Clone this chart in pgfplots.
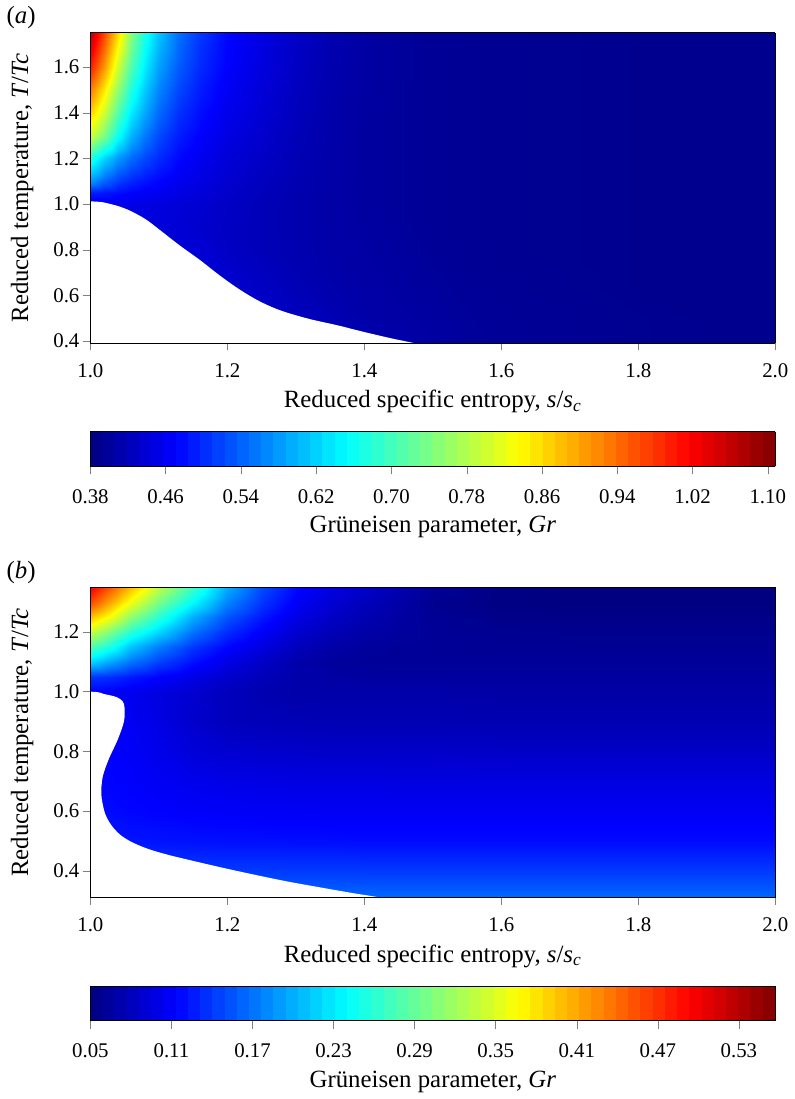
\documentclass[border=0pt]{standalone}
\usepackage{fontspec}
\setmainfont{Liberation Serif}
\usepackage{pgfplots}
\pgfplotsset{compat=1.18}
\usetikzlibrary{calc}

\pgfplotsset{
  grpanel/.style={
    width=345pt, height=156.5pt, scale only axis,
    view={0}{90},
    xmin=1, xmax=2,
    enlargelimits=false,
    axis on top,
    colormap/jet,
    tick align=outside,
    xtick pos=left, ytick pos=left,
    major tick length=3.5pt,
    xtick={1,1.2,1.4,1.6,1.8,2},
    xticklabels={1.0,1.2,1.4,1.6,1.8,2.0},
    xticklabel shift=3pt,
    yticklabel shift=-1.5pt,
    tick label style={font=\fontsize{10.5}{12}\selectfont},
    /pgf/number format/assume math mode=true,
    every axis x label/.style={at={(axis description cs:0.5,0)}, yshift=-29.4pt, anchor=center,
      font=\fontsize{12.5}{15}\selectfont},
    every axis y label/.style={at={(axis description cs:0,0.5)}, xshift=-34.3pt, anchor=center,
      rotate=90, font=\fontsize{12.5}{15}\selectfont},
    xlabel={Reduced specific entropy, \textit{s}/\textit{s}\textsubscript{\textit{c}}},
    ylabel={Reduced temperature, \textit{T}/\textit{Tc}},
    colorbar horizontal,
    colorbar sampled,
  },
  grbar/.style={
    samples=57,
    at={($(parent axis.north west)+(0pt,-192.4pt)$)}, anchor=north west,
    width=345pt, height=17.5pt, scale only axis,
    xtick align=outside, xtick pos=left, xticklabel pos=left,
    major tick length=4pt,
    xticklabel shift=4pt,
    tick label style={font=\fontsize{10.5}{12}\selectfont},
    every axis x label/.style={at={(axis description cs:0.5,0)}, yshift=-30.6pt, anchor=center,
      font=\fontsize{12.5}{15}\selectfont},
    xlabel={Grüneisen parameter, \textit{Gr}},
  },
}

\begin{document}
\begin{tikzpicture}
% ---------------- (a) ----------------
\begin{axis}[grpanel, name=pa,
  ymin=0.39, ymax=1.75,
  ytick={0.4,0.6,0.8,1.0,1.2,1.4,1.6},
  yticklabels={0.4,0.6,0.8,1.0,1.2,1.4,1.6},
  point meta min=0.38, point meta max=1.108,
  colorbar style={grbar,
    xtick={0.38,0.46,0.54,0.62,0.70,0.78,0.86,0.94,1.02,1.10},
    xticklabels={0.38,0.46,0.54,0.62,0.70,0.78,0.86,0.94,1.02,1.10}},
]
\addplot3[surf, shader=interp, mesh/cols=19, mesh/ordering=x varies] table[row sep=\\] {
s T g\\
1.00 0.39 0.45\\ 1.02 0.39 0.45\\ 1.04 0.39 0.45\\ 1.06 0.39 0.45\\ 1.08 0.39 0.45\\ 1.10 0.39 0.45\\ 1.13 0.39 0.445\\ 1.16 0.39 0.44\\ 1.20 0.39 0.435\\ 1.25 0.39 0.43\\ 1.30 0.39 0.425\\ 1.35 0.39 0.42\\ 1.40 0.39 0.415\\ 1.45 0.39 0.41\\ 1.50 0.39 0.405\\ 1.55 0.39 0.401\\ 1.60 0.39 0.397\\ 1.80 0.39 0.392\\ 2.00 0.39 0.39\\
1.00 0.50 0.45\\ 1.02 0.50 0.45\\ 1.04 0.50 0.45\\ 1.06 0.50 0.45\\ 1.08 0.50 0.45\\ 1.10 0.50 0.45\\ 1.13 0.50 0.445\\ 1.16 0.50 0.44\\ 1.20 0.50 0.435\\ 1.25 0.50 0.43\\ 1.30 0.50 0.425\\ 1.35 0.50 0.418\\ 1.40 0.50 0.41\\ 1.45 0.50 0.406\\ 1.50 0.50 0.403\\ 1.55 0.50 0.399\\ 1.60 0.50 0.396\\ 1.80 0.50 0.392\\ 2.00 0.50 0.39\\
1.00 0.60 0.45\\ 1.02 0.60 0.45\\ 1.04 0.60 0.45\\ 1.06 0.60 0.45\\ 1.08 0.60 0.45\\ 1.10 0.60 0.45\\ 1.13 0.60 0.445\\ 1.16 0.60 0.44\\ 1.20 0.60 0.435\\ 1.25 0.60 0.43\\ 1.30 0.60 0.42\\ 1.35 0.60 0.413\\ 1.40 0.60 0.408\\ 1.45 0.60 0.404\\ 1.50 0.60 0.401\\ 1.55 0.60 0.397\\ 1.60 0.60 0.395\\ 1.80 0.60 0.391\\ 2.00 0.60 0.39\\
1.00 0.70 0.45\\ 1.02 0.70 0.45\\ 1.04 0.70 0.45\\ 1.06 0.70 0.45\\ 1.08 0.70 0.448\\ 1.10 0.70 0.445\\ 1.13 0.70 0.442\\ 1.16 0.70 0.44\\ 1.20 0.70 0.435\\ 1.25 0.70 0.425\\ 1.30 0.70 0.417\\ 1.35 0.70 0.41\\ 1.40 0.70 0.406\\ 1.45 0.70 0.403\\ 1.50 0.70 0.399\\ 1.55 0.70 0.396\\ 1.60 0.70 0.394\\ 1.80 0.70 0.391\\ 2.00 0.70 0.39\\
1.00 0.80 0.45\\ 1.02 0.80 0.45\\ 1.04 0.80 0.45\\ 1.06 0.80 0.45\\ 1.08 0.80 0.448\\ 1.10 0.80 0.445\\ 1.13 0.80 0.442\\ 1.16 0.80 0.44\\ 1.20 0.80 0.43\\ 1.25 0.80 0.42\\ 1.30 0.80 0.414\\ 1.35 0.80 0.409\\ 1.40 0.80 0.405\\ 1.45 0.80 0.402\\ 1.50 0.80 0.397\\ 1.55 0.80 0.395\\ 1.60 0.80 0.393\\ 1.80 0.80 0.391\\ 2.00 0.80 0.39\\
1.00 0.90 0.45\\ 1.02 0.90 0.45\\ 1.04 0.90 0.45\\ 1.06 0.90 0.45\\ 1.08 0.90 0.448\\ 1.10 0.90 0.445\\ 1.13 0.90 0.44\\ 1.16 0.90 0.435\\ 1.20 0.90 0.428\\ 1.25 0.90 0.42\\ 1.30 0.90 0.413\\ 1.35 0.90 0.408\\ 1.40 0.90 0.404\\ 1.45 0.90 0.40\\ 1.50 0.90 0.396\\ 1.55 0.90 0.394\\ 1.60 0.90 0.393\\ 1.80 0.90 0.391\\ 2.00 0.90 0.39\\
1.00 1.00 0.46\\ 1.02 1.00 0.458\\ 1.04 1.00 0.455\\ 1.06 1.00 0.452\\ 1.08 1.00 0.45\\ 1.10 1.00 0.447\\ 1.13 1.00 0.443\\ 1.16 1.00 0.438\\ 1.20 1.00 0.43\\ 1.25 1.00 0.42\\ 1.30 1.00 0.413\\ 1.35 1.00 0.408\\ 1.40 1.00 0.403\\ 1.45 1.00 0.399\\ 1.50 1.00 0.396\\ 1.55 1.00 0.394\\ 1.60 1.00 0.393\\ 1.80 1.00 0.391\\ 2.00 1.00 0.39\\
1.00 1.05 0.49\\ 1.02 1.05 0.485\\ 1.04 1.05 0.478\\ 1.06 1.05 0.47\\ 1.08 1.05 0.465\\ 1.10 1.05 0.46\\ 1.13 1.05 0.452\\ 1.16 1.05 0.445\\ 1.20 1.05 0.433\\ 1.25 1.05 0.423\\ 1.30 1.05 0.414\\ 1.35 1.05 0.408\\ 1.40 1.05 0.403\\ 1.45 1.05 0.399\\ 1.50 1.05 0.396\\ 1.55 1.05 0.394\\ 1.60 1.05 0.393\\ 1.80 1.05 0.391\\ 2.00 1.05 0.39\\
1.00 1.10 0.58\\ 1.02 1.10 0.545\\ 1.04 1.10 0.515\\ 1.06 1.10 0.497\\ 1.08 1.10 0.484\\ 1.10 1.10 0.473\\ 1.13 1.10 0.46\\ 1.16 1.10 0.45\\ 1.20 1.10 0.437\\ 1.25 1.10 0.425\\ 1.30 1.10 0.415\\ 1.35 1.10 0.408\\ 1.40 1.10 0.403\\ 1.45 1.10 0.399\\ 1.50 1.10 0.396\\ 1.55 1.10 0.394\\ 1.60 1.10 0.393\\ 1.80 1.10 0.391\\ 2.00 1.10 0.39\\
1.00 1.20 0.68\\ 1.02 1.20 0.625\\ 1.04 1.20 0.58\\ 1.06 1.20 0.548\\ 1.08 1.20 0.522\\ 1.10 1.20 0.50\\ 1.13 1.20 0.475\\ 1.16 1.20 0.46\\ 1.20 1.20 0.443\\ 1.25 1.20 0.43\\ 1.30 1.20 0.418\\ 1.35 1.20 0.409\\ 1.40 1.20 0.403\\ 1.45 1.20 0.399\\ 1.50 1.20 0.396\\ 1.55 1.20 0.394\\ 1.60 1.20 0.393\\ 1.80 1.20 0.391\\ 2.00 1.20 0.39\\
1.00 1.30 0.80\\ 1.02 1.30 0.74\\ 1.04 1.30 0.66\\ 1.06 1.30 0.60\\ 1.08 1.30 0.557\\ 1.10 1.30 0.522\\ 1.13 1.30 0.49\\ 1.16 1.30 0.47\\ 1.20 1.30 0.45\\ 1.25 1.30 0.435\\ 1.30 1.30 0.42\\ 1.35 1.30 0.41\\ 1.40 1.30 0.403\\ 1.45 1.30 0.399\\ 1.50 1.30 0.396\\ 1.55 1.30 0.394\\ 1.60 1.30 0.393\\ 1.80 1.30 0.391\\ 2.00 1.30 0.39\\
1.00 1.40 0.87\\ 1.02 1.40 0.80\\ 1.04 1.40 0.71\\ 1.06 1.40 0.64\\ 1.08 1.40 0.59\\ 1.10 1.40 0.545\\ 1.13 1.40 0.505\\ 1.16 1.40 0.48\\ 1.20 1.40 0.457\\ 1.25 1.40 0.44\\ 1.30 1.40 0.423\\ 1.35 1.40 0.411\\ 1.40 1.40 0.403\\ 1.45 1.40 0.399\\ 1.50 1.40 0.396\\ 1.55 1.40 0.394\\ 1.60 1.40 0.393\\ 1.80 1.40 0.391\\ 2.00 1.40 0.39\\
1.00 1.50 0.93\\ 1.02 1.50 0.85\\ 1.04 1.50 0.755\\ 1.06 1.50 0.675\\ 1.08 1.50 0.615\\ 1.10 1.50 0.565\\ 1.13 1.50 0.52\\ 1.16 1.50 0.49\\ 1.20 1.50 0.463\\ 1.25 1.50 0.443\\ 1.30 1.50 0.425\\ 1.35 1.50 0.412\\ 1.40 1.50 0.404\\ 1.45 1.50 0.399\\ 1.50 1.50 0.396\\ 1.55 1.50 0.394\\ 1.60 1.50 0.393\\ 1.80 1.50 0.391\\ 2.00 1.50 0.39\\
1.00 1.60 1.00\\ 1.02 1.60 0.91\\ 1.04 1.60 0.80\\ 1.06 1.60 0.71\\ 1.08 1.60 0.64\\ 1.10 1.60 0.585\\ 1.13 1.60 0.535\\ 1.16 1.60 0.50\\ 1.20 1.60 0.47\\ 1.25 1.60 0.447\\ 1.30 1.60 0.428\\ 1.35 1.60 0.414\\ 1.40 1.60 0.405\\ 1.45 1.60 0.40\\ 1.50 1.60 0.396\\ 1.55 1.60 0.394\\ 1.60 1.60 0.393\\ 1.80 1.60 0.391\\ 2.00 1.60 0.39\\
1.00 1.75 1.07\\ 1.02 1.75 0.97\\ 1.04 1.75 0.86\\ 1.06 1.75 0.75\\ 1.08 1.75 0.67\\ 1.10 1.75 0.61\\ 1.13 1.75 0.55\\ 1.16 1.75 0.51\\ 1.20 1.75 0.475\\ 1.25 1.75 0.45\\ 1.30 1.75 0.43\\ 1.35 1.75 0.415\\ 1.40 1.75 0.405\\ 1.45 1.75 0.40\\ 1.50 1.75 0.396\\ 1.55 1.75 0.394\\ 1.60 1.75 0.393\\ 1.80 1.75 0.391\\ 2.00 1.75 0.39\\
};
% two-phase region (blank)
\addplot[fill=white, draw=none, smooth, tension=0.55] coordinates {
(0.9,1.012) (1.0,1.012) (1.03,1.0) (1.055,0.975) (1.08,0.935) (1.1,0.89) (1.13,0.82)
(1.16,0.755) (1.19,0.685) (1.22,0.622) (1.25,0.57) (1.28,0.532) (1.32,0.497)
(1.36,0.47) (1.40,0.44) (1.44,0.412) (1.475,0.39) (1.5,0.37) (0.9,0.37)} --cycle;
\end{axis}
\node[font=\fontsize{12.5}{15}\selectfont] at ($(pa.north west)+(-34.9pt,7.5pt)$) {(\textit{a})};

% ---------------- (b) ----------------
\begin{axis}[grpanel, name=pb,
  at={($(pa.south west)+(0pt,-279.2pt)$)}, anchor=south west,
  ymin=0.31, ymax=1.35,
  ytick={0.4,0.6,0.8,1.0,1.2},
  yticklabels={0.4,0.6,0.8,1.0,1.2},
  point meta min=0.05, point meta max=0.557,
  colorbar style={grbar,
    xtick={0.05,0.11,0.17,0.23,0.29,0.35,0.41,0.47,0.53},
    xticklabels={0.05,0.11,0.17,0.23,0.29,0.35,0.41,0.47,0.53}},
]
\addplot3[surf, shader=interp, mesh/cols=16, mesh/ordering=x varies] table[row sep=\\] {
s T g\\
1.00 0.31 0.166\\ 1.03 0.31 0.166\\ 1.06 0.31 0.166\\ 1.10 0.31 0.166\\ 1.15 0.31 0.166\\ 1.20 0.31 0.166\\ 1.25 0.31 0.166\\ 1.30 0.31 0.166\\ 1.35 0.31 0.166\\ 1.40 0.31 0.166\\ 1.45 0.31 0.166\\ 1.50 0.31 0.166\\ 1.60 0.31 0.166\\ 1.70 0.31 0.166\\ 1.80 0.31 0.166\\ 2.00 0.31 0.166\\
1.00 0.40 0.142\\ 1.03 0.40 0.142\\ 1.06 0.40 0.142\\ 1.10 0.40 0.142\\ 1.15 0.40 0.142\\ 1.20 0.40 0.142\\ 1.25 0.40 0.142\\ 1.30 0.40 0.142\\ 1.35 0.40 0.142\\ 1.40 0.40 0.142\\ 1.45 0.40 0.142\\ 1.50 0.40 0.142\\ 1.60 0.40 0.142\\ 1.70 0.40 0.142\\ 1.80 0.40 0.142\\ 2.00 0.40 0.142\\
1.00 0.50 0.125\\ 1.03 0.50 0.124\\ 1.06 0.50 0.123\\ 1.10 0.50 0.122\\ 1.15 0.50 0.121\\ 1.20 0.50 0.12\\ 1.25 0.50 0.12\\ 1.30 0.50 0.119\\ 1.35 0.50 0.119\\ 1.40 0.50 0.118\\ 1.45 0.50 0.118\\ 1.50 0.50 0.118\\ 1.60 0.50 0.118\\ 1.70 0.50 0.118\\ 1.80 0.50 0.118\\ 2.00 0.50 0.118\\
1.00 0.60 0.118\\ 1.03 0.60 0.117\\ 1.06 0.60 0.115\\ 1.10 0.60 0.113\\ 1.15 0.60 0.111\\ 1.20 0.60 0.11\\ 1.25 0.60 0.109\\ 1.30 0.60 0.109\\ 1.35 0.60 0.108\\ 1.40 0.60 0.108\\ 1.45 0.60 0.108\\ 1.50 0.60 0.108\\ 1.60 0.60 0.108\\ 1.70 0.60 0.108\\ 1.80 0.60 0.108\\ 2.00 0.60 0.108\\
1.00 0.70 0.115\\ 1.03 0.70 0.114\\ 1.06 0.70 0.112\\ 1.10 0.70 0.108\\ 1.15 0.70 0.104\\ 1.20 0.70 0.101\\ 1.25 0.70 0.10\\ 1.30 0.70 0.099\\ 1.35 0.70 0.099\\ 1.40 0.70 0.099\\ 1.45 0.70 0.098\\ 1.50 0.70 0.098\\ 1.60 0.70 0.098\\ 1.70 0.70 0.098\\ 1.80 0.70 0.098\\ 2.00 0.70 0.098\\
1.00 0.80 0.113\\ 1.03 0.80 0.112\\ 1.06 0.80 0.11\\ 1.10 0.80 0.103\\ 1.15 0.80 0.094\\ 1.20 0.80 0.09\\ 1.25 0.80 0.088\\ 1.30 0.80 0.087\\ 1.35 0.80 0.086\\ 1.40 0.80 0.086\\ 1.45 0.80 0.086\\ 1.50 0.80 0.086\\ 1.60 0.80 0.085\\ 1.70 0.80 0.085\\ 1.80 0.80 0.085\\ 2.00 0.80 0.085\\
1.00 0.90 0.112\\ 1.03 0.90 0.112\\ 1.06 0.90 0.108\\ 1.10 0.90 0.10\\ 1.15 0.90 0.088\\ 1.20 0.90 0.08\\ 1.25 0.90 0.078\\ 1.30 0.90 0.077\\ 1.35 0.90 0.076\\ 1.40 0.90 0.076\\ 1.45 0.90 0.076\\ 1.50 0.90 0.076\\ 1.60 0.90 0.075\\ 1.70 0.90 0.075\\ 1.80 0.90 0.075\\ 2.00 0.90 0.075\\
1.00 1.00 0.112\\ 1.03 1.00 0.11\\ 1.06 1.00 0.105\\ 1.10 1.00 0.098\\ 1.15 1.00 0.09\\ 1.20 1.00 0.08\\ 1.25 1.00 0.074\\ 1.30 1.00 0.071\\ 1.35 1.00 0.07\\ 1.40 1.00 0.07\\ 1.45 1.00 0.07\\ 1.50 1.00 0.07\\ 1.60 1.00 0.069\\ 1.70 1.00 0.069\\ 1.80 1.00 0.069\\ 2.00 1.00 0.069\\
1.00 1.05 0.14\\ 1.03 1.05 0.135\\ 1.06 1.05 0.125\\ 1.10 1.05 0.113\\ 1.15 1.05 0.10\\ 1.20 1.05 0.088\\ 1.25 1.05 0.078\\ 1.30 1.05 0.071\\ 1.35 1.05 0.068\\ 1.40 1.05 0.066\\ 1.45 1.05 0.066\\ 1.50 1.05 0.066\\ 1.60 1.05 0.066\\ 1.70 1.05 0.066\\ 1.80 1.05 0.066\\ 2.00 1.05 0.066\\
1.00 1.10 0.22\\ 1.03 1.10 0.195\\ 1.06 1.10 0.17\\ 1.10 1.10 0.145\\ 1.15 1.10 0.12\\ 1.20 1.10 0.10\\ 1.25 1.10 0.085\\ 1.30 1.10 0.072\\ 1.35 1.10 0.064\\ 1.40 1.10 0.062\\ 1.45 1.10 0.062\\ 1.50 1.10 0.062\\ 1.60 1.10 0.062\\ 1.70 1.10 0.062\\ 1.80 1.10 0.062\\ 2.00 1.10 0.062\\
1.00 1.15 0.28\\ 1.03 1.15 0.25\\ 1.06 1.15 0.21\\ 1.10 1.15 0.175\\ 1.15 1.15 0.14\\ 1.20 1.15 0.115\\ 1.25 1.15 0.097\\ 1.30 1.15 0.08\\ 1.35 1.15 0.07\\ 1.40 1.15 0.064\\ 1.45 1.15 0.062\\ 1.50 1.15 0.061\\ 1.60 1.15 0.06\\ 1.70 1.15 0.06\\ 1.80 1.15 0.06\\ 2.00 1.15 0.06\\
1.00 1.20 0.34\\ 1.03 1.20 0.30\\ 1.06 1.20 0.26\\ 1.10 1.20 0.22\\ 1.15 1.20 0.17\\ 1.20 1.20 0.135\\ 1.25 1.20 0.11\\ 1.30 1.20 0.09\\ 1.35 1.20 0.078\\ 1.40 1.20 0.07\\ 1.45 1.20 0.065\\ 1.50 1.20 0.062\\ 1.60 1.20 0.059\\ 1.70 1.20 0.058\\ 1.80 1.20 0.058\\ 2.00 1.20 0.058\\
1.00 1.25 0.40\\ 1.03 1.25 0.36\\ 1.06 1.25 0.31\\ 1.10 1.25 0.26\\ 1.15 1.25 0.20\\ 1.20 1.25 0.155\\ 1.25 1.25 0.125\\ 1.30 1.25 0.10\\ 1.35 1.25 0.085\\ 1.40 1.25 0.075\\ 1.45 1.25 0.067\\ 1.50 1.25 0.06\\ 1.60 1.25 0.055\\ 1.70 1.25 0.054\\ 1.80 1.25 0.054\\ 2.00 1.25 0.054\\
1.00 1.30 0.46\\ 1.03 1.30 0.41\\ 1.06 1.30 0.36\\ 1.10 1.30 0.30\\ 1.15 1.30 0.24\\ 1.20 1.30 0.18\\ 1.25 1.30 0.14\\ 1.30 1.30 0.11\\ 1.35 1.30 0.092\\ 1.40 1.30 0.08\\ 1.45 1.30 0.07\\ 1.50 1.30 0.058\\ 1.60 1.30 0.052\\ 1.70 1.30 0.051\\ 1.80 1.30 0.051\\ 2.00 1.30 0.051\\
1.00 1.35 0.50\\ 1.03 1.35 0.45\\ 1.06 1.35 0.40\\ 1.10 1.35 0.335\\ 1.15 1.35 0.27\\ 1.20 1.35 0.20\\ 1.25 1.35 0.15\\ 1.30 1.35 0.118\\ 1.35 1.35 0.10\\ 1.40 1.35 0.088\\ 1.45 1.35 0.075\\ 1.50 1.35 0.062\\ 1.60 1.35 0.052\\ 1.70 1.35 0.05\\ 1.80 1.35 0.05\\ 2.00 1.35 0.05\\
};
% two-phase region (blank)
\addplot[fill=white, draw=none, smooth, tension=0.5] coordinates {
(0.9,1.0) (1.0,1.0) (1.02,0.992) (1.038,0.982) (1.047,0.968) (1.05,0.945) (1.049,0.9)
(1.04,0.84) (1.027,0.775) (1.018,0.715) (1.016,0.655) (1.021,0.595) (1.03,0.555)
(1.043,0.522) (1.06,0.497) (1.085,0.473) (1.12,0.45) (1.2,0.407) (1.28,0.368)
(1.34,0.343) (1.385,0.325) (1.425,0.31) (1.46,0.29) (0.9,0.29)} --cycle;
\end{axis}
\node[font=\fontsize{12.5}{15}\selectfont] at ($(pb.north west)+(-34.9pt,7.2pt)$) {(\textit{b})};
\end{tikzpicture}
\end{document}
